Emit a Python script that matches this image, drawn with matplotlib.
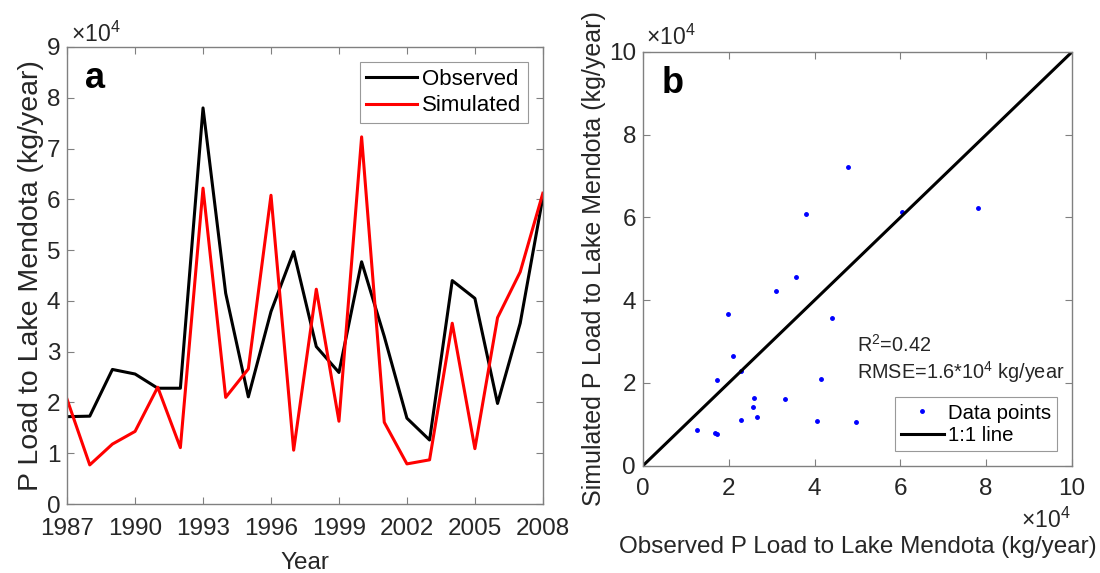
import matplotlib
matplotlib.use("Agg")
import matplotlib.pyplot as plt
import numpy as np

plt.rcParams['font.family'] = ['Liberation Sans', 'DejaVu Sans']
plt.rcParams['mathtext.fontset'] = 'custom'
plt.rcParams['mathtext.rm'] = 'Liberation Sans'

# Data (units of 10^4 kg/year)
years = list(range(1987, 2009))
observed = [1.72, 1.73, 2.65, 2.56, 2.28, 2.28, 7.80, 4.15, 2.11, 3.79, 4.97,
            3.10, 2.59, 4.77, 3.30, 1.69, 1.26, 4.40, 4.05, 1.98, 3.56, 6.04]
simulated = [2.06, 0.77, 1.18, 1.43, 2.30, 1.11, 6.22, 2.10, 2.66, 6.08, 1.06,
             4.23, 1.63, 7.23, 1.61, 0.79, 0.87, 3.56, 1.09, 3.67, 4.57, 6.12]
year_ticks = [1987, 1990, 1993, 1996, 1999, 2002, 2005, 2008]
a_yticks = list(range(0, 10))
b_ticks = [0, 2, 4, 6, 8, 10]
one_to_one = [0, 10]

spine_col = '#808080'
text_col = '#262626'
fs = 17.5
mult = r'$\times$10$^{4}$'

fig = plt.figure(figsize=(11, 5.73), dpi=100)

def style(ax):
    for s in ax.spines.values():
        s.set_color(spine_col)
        s.set_linewidth(1.0)
    ax.tick_params(direction='in', top=True, right=True, length=5,
                   color=spine_col, labelsize=fs, labelcolor=text_col, width=0.8)

# Panel a
ax1 = fig.add_axes([0.061, 0.1204, 0.4325, 0.7976])
ax1.plot(years, observed, color='black', lw=2.2, label='Observed')
ax1.plot(years, simulated, color='red', lw=2.2, label='Simulated')
ax1.set_xlim(1987, 2008)
ax1.set_ylim(0, 9)
ax1.set_xticks(year_ticks)
ax1.set_yticks(a_yticks)
style(ax1)
ax1.tick_params(axis='x', pad=10)
ax1.tick_params(axis='y', pad=5)
ax1.set_xlabel('Year', fontsize=fs, color=text_col, labelpad=9)
ax1.set_ylabel('P Load to Lake Mendota (kg/year)', fontsize=20.5, color=text_col, labelpad=2)
ax1.text(0.008, 1.011, mult, transform=ax1.transAxes, fontsize=16.5,
         color=text_col, ha='left', va='baseline')
ax1.text(0.038, 0.910, 'a', transform=ax1.transAxes, fontsize=26, fontweight='bold',
         ha='left', va='baseline')
leg1 = ax1.legend(loc='upper right', fontsize=16, frameon=True, fancybox=False,
                  borderpad=0.3, handlelength=2.3, handletextpad=0.2,
                  labelspacing=0.25, borderaxespad=0.68)
leg1.get_frame().set_edgecolor(spine_col)
leg1.get_frame().set_linewidth(0.8)

# Panel b
ax2 = fig.add_axes([0.5845, 0.1873, 0.3900, 0.7220])
ax2.plot(observed, simulated, '.', color='blue', markersize=5, label='Data points')
ax2.plot(one_to_one, one_to_one, color='black', lw=2.2, label='1:1 line')
ax2.set_xlim(0, 10)
ax2.set_ylim(0, 10)
ax2.set_xticks(b_ticks)
ax2.set_yticks(b_ticks)
style(ax2)
ax2.tick_params(axis='x', pad=9)
ax2.tick_params(axis='y', pad=5)
ax2.set_xlabel('Observed P Load to Lake Mendota (kg/year)', fontsize=fs, color=text_col,
               labelpad=26)
ax2.set_ylabel('Simulated P Load to Lake Mendota (kg/year)', fontsize=18, color=text_col,
               labelpad=2)
ax2.text(0.007, 1.017, mult, transform=ax2.transAxes, fontsize=16.5,
         color=text_col, ha='left', va='baseline')
ax2.text(0.996, -0.150, mult, transform=ax2.transAxes, fontsize=16.5,
         color=text_col, ha='right', va='baseline')
ax2.text(0.044, 0.900, 'b', transform=ax2.transAxes, fontsize=26, fontweight='bold',
         ha='left', va='baseline')
ax2.text(0.50, 0.195, 'R$^2$=0.42\nRMSE=1.6*10$^4$ kg/year', transform=ax2.transAxes,
         fontsize=14.3, color=text_col, ha='left', va='bottom', linespacing=1.15)
leg2 = ax2.legend(loc='lower right', fontsize=14.7, frameon=True, fancybox=False,
                  borderpad=0.3, handlelength=2.1, handletextpad=0.2,
                  labelspacing=0.15, borderaxespad=0.73)
leg2.get_frame().set_edgecolor(spine_col)
leg2.get_frame().set_linewidth(0.8)

fig.savefig('out.png', dpi=100)
